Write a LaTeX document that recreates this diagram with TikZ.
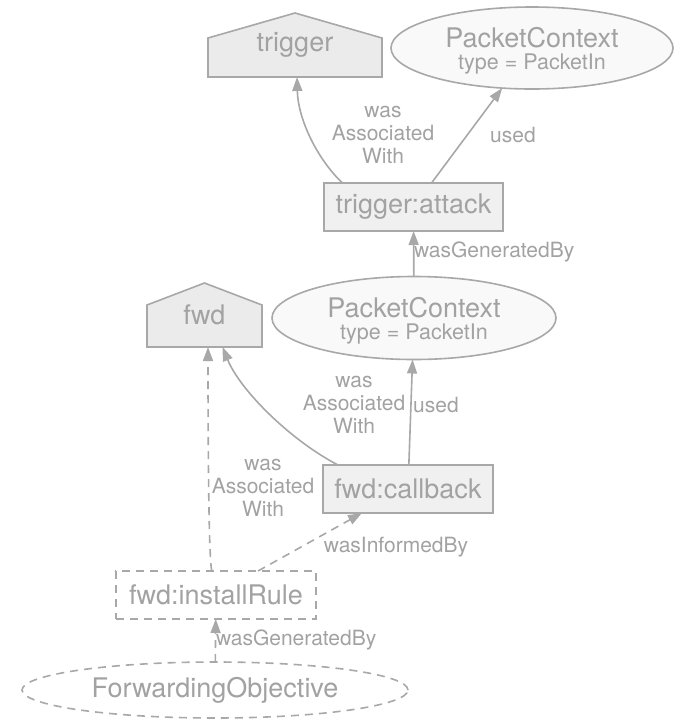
\documentclass[tikz,border=0pt]{standalone}
\usepackage{fontspec}
\setmainfont{TeX Gyre Heros}
\usetikzlibrary{shapes.geometric,arrows.meta,calc,backgrounds}
\definecolor{edgegray}{HTML}{A8A8A8}
\definecolor{textgray}{HTML}{A2A2A2}
\definecolor{agentfill}{HTML}{EBEBEB}
\definecolor{actfill}{HTML}{F0F0F0}
\definecolor{entfill}{HTML}{F9F9F9}
\tikzset{
  every node/.style={text=textgray, inner sep=0pt, outer sep=0pt},
  mainfont/.style={font=\fontsize{27}{30}\selectfont},
  agent/.style={mainfont, minimum width=#1, minimum height=64pt},
  housepath/.style={draw=edgegray, fill=agentfill, line width=1.6pt, line join=miter},
  activity/.style={mainfont, rectangle, draw=edgegray, fill=actfill, line width=1.6pt},
  pending/.style={mainfont, rectangle, draw=edgegray, fill=white, line width=1.6pt, dashed, dash pattern=on 8pt off 6pt},
  entity/.style={ellipse, draw=edgegray, fill=entfill, line width=1.6pt, align=center, font=\fontsize{21.5}{22}\selectfont},
  pendent/.style={ellipse, mainfont, draw=edgegray, fill=white, line width=1.6pt, dash pattern=on 8pt off 6pt},
  rel/.style={draw=edgegray, line width=1.6pt, -{Triangle[length=14pt,width=10pt]}},
  drel/.style={rel, dash pattern=on 8pt off 6pt},
  lbl/.style={font=\fontsize{21}{23}\selectfont, align=center},
}
% two-line entity caption: name over its type
\newcommand{\entitytext}[2]{{\fontsize{27}{22}\selectfont\rule{0pt}{25pt}#1}\\#2}
\begin{document}
\begin{tikzpicture}[x=1pt,y=-1pt]
\useasboundingbox (0,0) rectangle (683,721);

% agents (house-shaped)
\node[agent=174pt] (trigger) at (295,45) {\raisebox{-2pt}{trigger}};
\node[agent=115pt] (fwd) at (204.5,315) {\raisebox{-2pt}{fwd}};
\begin{pgfonlayer}{background}
  \draw[housepath] (trigger.south west) -- ($(trigger.north west)+(0,25)$) -- (trigger.north)
    -- ($(trigger.north east)+(0,25)$) -- (trigger.south east) -- cycle;
  \draw[housepath] (fwd.south west) -- ($(fwd.north west)+(0,22)$) -- (fwd.north)
    -- ($(fwd.north east)+(0,22)$) -- (fwd.south east) -- cycle;
\end{pgfonlayer}

% entities
\node[entity, minimum width=282pt, minimum height=82pt] (pc1) at (532,48)
  {\entitytext{PacketContext}{type = PacketIn}};
\node[entity, minimum width=284pt, minimum height=83pt] (pc2) at (414,318)
  {\entitytext{PacketContext}{type = PacketIn}};
\node[pendent, minimum width=386pt, minimum height=56pt] (fo) at (215,690) {ForwardingObjective};

% activities
\node[activity, minimum width=179pt, minimum height=48pt] (attack) at (413.5,207) {trigger:attack};
\node[activity, minimum width=170pt, minimum height=48pt] (callback) at (408,489) {fwd:callback};
\node[pending, minimum width=200pt, minimum height=48pt] (install) at (216,595) {fwd:installRule};

% relations
\draw[rel] ($(attack.north)+(-71,0)$) .. controls +(-24.5,-23) and +(1,43) .. ($(trigger.south)+(2,0)$);
\draw[rel] ($(attack.north)+(18,0)$) -- (pc1);
\draw[rel] (pc2) -- (attack);
\draw[rel] (callback) -- (pc2);
\draw[rel] ($(callback.north)+(-70,0)$) .. controls +(-48,-25) and +(17.5,43) .. ($(fwd.south)+(18,0)$);
\draw[drel] ($(install.north)+(-4,0)$) .. controls +(-4,-6) and +(0,40) .. ($(fwd.south)+(3.5,0)$);
\draw[drel] ($(install.north)+(42,0)$) -- ($(callback.south)+(-46,0)$);
\draw[drel] (fo) -- (install);

% relation labels
\node[lbl] (l1) at (383,135) {was\\Associated\\With};
\node[lbl] (l2) at (513,135) {used};
\node[lbl, anchor=west] (l3) at (414,252) {wasGeneratedBy};
\node[lbl] (l4) at (354,405) {was\\Associated\\With};
\node[lbl] (l5) at (436,405) {used};
\node[lbl] (l6) at (263,488) {was\\Associated\\With};
\node[lbl] (l7) at (396,547) {wasInformedBy};
\node[lbl, anchor=west] (l8) at (216,640) {wasGeneratedBy};
\end{tikzpicture}
\end{document}
